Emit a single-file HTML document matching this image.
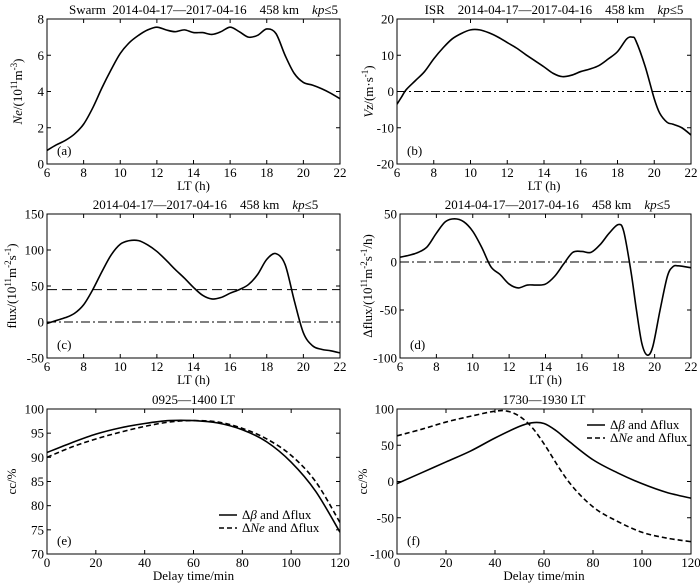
<!DOCTYPE html>
<html><head><meta charset="utf-8">
<style>
html,body{margin:0;padding:0;background:#fff;}
svg{display:block;font-family:"Liberation Serif","Noto Serif CJK SC",serif;}
text{white-space:pre;}
</style></head>
<body>
<svg id="fig" width="700" height="584" viewBox="0 0 700 584" xmlns="http://www.w3.org/2000/svg" xml:space="preserve"></svg>
<script>
// ---- data ----
const aX=[6,6.5,7,7.5,8,8.5,9,9.5,10,10.5,11,11.5,12,12.5,13,13.5,14,14.5,15,15.5,16,16.5,17,17.5,18,18.5,19,19.5,20,20.5,21,21.5,22];
const aNe=[0.75,1.05,1.3,1.65,2.2,3.1,4.2,5.2,6.1,6.7,7.1,7.4,7.55,7.4,7.3,7.4,7.25,7.25,7.15,7.3,7.55,7.3,7.0,7.1,7.45,7.2,6.0,5.0,4.5,4.35,4.15,3.9,3.6];
const bX=[6,6.25,6.5,7,7.5,8,8.5,9,9.5,10,10.5,11,11.5,12,12.5,13,13.5,14,14.5,15,15.5,16,16.5,17,17.5,18,18.5,18.8,19,19.5,20,20.3,20.7,21,21.5,22];
const bVz=[-3.5,-1.5,0.5,3,5.5,9,12,14.5,16,17,17,16.2,15,13.5,12,10.2,8.5,6.8,5,4.1,4.5,5.5,6.2,7.2,9,11,14.5,15,14,7,-2,-6,-8.5,-9,-10,-12];
const cX=[6,6.5,7,7.5,8,8.5,9,9.5,10,10.5,11,11.5,12,12.5,13,13.5,14,14.5,15,15.5,16,16.5,17,17.5,18,18.5,19,19.5,20,20.5,21,21.5,22];
const cFlux=[-2,2,6,12,24,45,70,93,108,113,113,107,98,86,73,61,48,37,32,34,40,45,52,66,87,95,80,30,-15,-33,-38,-40,-43];
const cThreshold=45;
const dX=[6,6.5,7,7.5,8,8.5,9,9.5,10,10.5,11,11.5,12,12.5,13,13.5,14,14.5,15,15.5,16,16.5,17,17.5,18,18.3,18.7,19,19.3,19.6,19.9,20.3,20.7,21,21.3,22];
const dDflux=[5,7,10,16,30,42,45,42,32,15,-5,-13,-23,-27,-24,-24,-23,-15,-2,10,11,10,18,30,39,32,-10,-50,-85,-97,-88,-50,-15,-5,-4,-6];
const eX=[0,10,20,30,40,50,60,70,80,90,100,110,120];
const eBeta=[91,93,94.8,96.1,97,97.6,97.6,97.1,95.7,93.2,89,83,74.5];
const eNe=[90,92.1,93.8,95.2,96.4,97.3,97.6,97.3,96,93.8,90.4,85,76.5];
const fXs=[0,10,20,30,40,50,55,60,65,70,80,90,100,110,120];
const fBeta=[-3,12,27,42,60,76,81,80,70,56,30,12,-3,-15,-23];
const fXd=[0,10,20,30,40,45,50,55,60,70,80,90,100,110,120];
const fNe=[63,72,82,90,97,97,90,75,52,0,-35,-55,-70,-78,-83];
const ltTicks=[6,8,10,12,14,16,18,20,22];
const delayTicks=[0,20,40,60,80,100,120];

const NS="http://www.w3.org/2000/svg";
const svg=document.getElementById('fig');
function mk(tag,attrs,parent,txt){const e=document.createElementNS(NS,tag);for(const k in attrs)e.setAttribute(k,attrs[k]);if(txt!==undefined)e.innerHTML=txt;(parent||svg).appendChild(e);return e;}
function smooth(pts){let d=`M${pts[0][0]},${pts[0][1]}`;for(let i=0;i<pts.length-1;i++){const p0=pts[Math.max(0,i-1)],p1=pts[i],p2=pts[i+1],p3=pts[Math.min(pts.length-1,i+2)];
const c1x=p1[0]+(p2[0]-p0[0])/6,c1y=p1[1]+(p2[1]-p0[1])/6,c2x=p2[0]-(p3[0]-p1[0])/6,c2y=p2[1]-(p3[1]-p1[1])/6;d+=` C${c1x.toFixed(2)},${c1y.toFixed(2)} ${c2x.toFixed(2)},${c2y.toFixed(2)} ${p2[0].toFixed(2)},${p2[1].toFixed(2)}`;}return d;}

function panel(o){
  const g=mk('g',{});
  
  
  const sx=v=>o.L+(v-o.x0)/(o.x1-o.x0)*(o.R-o.L);
  const sy=v=>o.B-(v-o.y0)/(o.y1-o.y0)*(o.B-o.T);
  const clipId='clip-'+o.name;
  const cp=mk('clipPath',{id:clipId},g);mk('rect',{x:o.L,y:o.T,width:o.R-o.L,height:o.B-o.T},cp);
  (o.hlines||[]).forEach(h=>{const l=mk('line',{x1:o.L,x2:o.R,y1:sy(h.v),y2:sy(h.v),stroke:'#000','stroke-width':1,'stroke-dasharray':h.dash},g);});
  o.series.forEach(s=>{const pts=s.x.map((x,i)=>[sx(x),sy(s.y[i])]);const p=mk('path',{d:smooth(pts),fill:'none',stroke:'#000','stroke-width':1.6,'stroke-dasharray':s.dash||'','clip-path':`url(#${clipId})`},g);});
  const fr=mk('rect',{x:o.L,y:o.T,width:o.R-o.L,height:o.B-o.T,fill:'none',stroke:'#000','stroke-width':1},g);
  
  o.xt.forEach(t=>{const x=sx(t);mk('line',{x1:x,x2:x,y1:o.B,y2:o.B-4,stroke:'#000'},g);mk('line',{x1:x,x2:x,y1:o.T,y2:o.T+4,stroke:'#000'},g);
    const tx=mk('text',{x:x,y:o.B+13,'text-anchor':'middle','font-size':13},g,t);});
  o.yt.forEach(t=>{const y=sy(t);mk('line',{x1:o.L,x2:o.L+4,y1:y,y2:y,stroke:'#000'},g);mk('line',{x1:o.R,x2:o.R-4,y1:y,y2:y,stroke:'#000'},g);
    const tx=mk('text',{x:o.L-3,y:y+4.5,'text-anchor':'end','font-size':13},g,t);});
  const xl=mk('text',{x:(o.L+o.R)/2,y:o.B+26,'text-anchor':'middle','font-size':13},g,o.xlabel);
  const yl=mk('text',{x:0,y:0,'text-anchor':'middle','font-size':13,transform:`translate(${o.ylx},${(o.T+o.B)/2}) rotate(-90)`},g,o.ylabel);
  const ti=mk('text',{x:(o.L+o.R)/2+o.tdx,y:o.T-5,'text-anchor':'middle','font-size':13,style:'white-space:pre'},g,o.title);
  const pl=mk('text',{x:o.L+10,y:o.B-9,'font-size':13},g,o.tag);
  (o.legend||[]).forEach((e,i)=>{const y=o.legY+i*13;const ln=mk('line',{x1:o.legX,x2:o.legX+18,y1:y-4,y2:y-4,stroke:'#000','stroke-width':1.6,'stroke-dasharray':e.dash||''},g);
    const tx=mk('text',{x:o.legX+23,y:y,'font-size':13},g,e.label);});
}
const kp='<tspan font-style="italic">kp</tspan>≤5';
const dates='2014-04-17—2017-04-16    458 km    ';
panel({name:'panel-a',L:47,R:340,T:19,B:164,x0:6,x1:22,y0:0,y1:8,xt:ltTicks,yt:[0,2,4,6,8],xlabel:'LT (h)',ylx:22,
  ylabel:'<tspan font-style="italic">Ne</tspan>/(10<tspan font-size="9" dy="-5">11</tspan><tspan dy="5">m</tspan><tspan font-size="9" dy="-5">-3</tspan><tspan dy="5">)</tspan>',
  title:'Swarm  '+dates+kp,tdx:10,tag:'(a)',series:[{name:'ne-curve',x:aX,y:aNe}]});
panel({name:'panel-b',L:397,R:691,T:19,B:164,x0:6,x1:22,y0:-20,y1:20,xt:ltTicks,yt:[-20,-10,0,10,20],xlabel:'LT (h)',ylx:373,
  ylabel:'<tspan font-style="italic">Vz</tspan>/(m·s<tspan font-size="9" dy="-5">-1</tspan><tspan dy="5">)</tspan>',
  title:'ISR    '+dates+kp,tdx:10,tag:'(b)',hlines:[{v:0,dash:'9 3 2 3',name:'zero-line'}],series:[{name:'vz-curve',x:bX,y:bVz}]});
panel({name:'panel-c',L:47,R:340,T:214,B:358,x0:6,x1:22,y0:-50,y1:150,xt:ltTicks,yt:[-50,0,50,100,150],xlabel:'LT (h)',ylx:16,
  ylabel:'flux/(10<tspan font-size="9" dy="-5">11</tspan><tspan dy="5">m</tspan><tspan font-size="9" dy="-5">-2</tspan><tspan dy="5">s</tspan><tspan font-size="9" dy="-5">-1</tspan><tspan dy="5">)</tspan>',
  title:dates+kp,tdx:12,tag:'(c)',hlines:[{v:0,dash:'9 3 2 3',name:'zero-line'},{v:cThreshold,dash:'10 5',name:'threshold-line'}],series:[{name:'flux-curve',x:cX,y:cFlux}]});
panel({name:'panel-d',L:400,R:691,T:214,B:358,x0:6,x1:22,y0:-100,y1:50,xt:ltTicks,yt:[-100,-50,0,50],xlabel:'LT (h)',ylx:372,
  ylabel:'Δflux/(10<tspan font-size="9" dy="-5">11</tspan><tspan dy="5">m</tspan><tspan font-size="9" dy="-5">-2</tspan><tspan dy="5">s</tspan><tspan font-size="9" dy="-5">-1</tspan><tspan dy="5">/h)</tspan>',
  title:dates+kp,tdx:12,tag:'(d)',hlines:[{v:0,dash:'9 3 2 3',name:'zero-line'}],series:[{name:'dflux-curve',x:dX,y:dDflux}]});
panel({name:'panel-e',L:47,R:340,T:409,B:554,x0:0,x1:120,y0:70,y1:100,xt:delayTicks,yt:[70,75,80,85,90,95,100],xlabel:'Delay time/min',ylx:16,
  ylabel:'cc/%',title:'0925—1400 LT',tdx:0,tag:'(e)',legX:219,legY:519,
  legend:[{label:'Δ<tspan font-style="italic">β</tspan> and Δflux'},{label:'Δ<tspan font-style="italic">Ne</tspan> and Δflux',dash:'5 3'}],
  series:[{name:'beta-flux-cc',x:eX,y:eBeta},{name:'ne-flux-cc',x:eX,y:eNe,dash:'5 3'}]});
panel({name:'panel-f',L:397,R:691,T:409,B:554,x0:0,x1:120,y0:-100,y1:100,xt:delayTicks,yt:[-100,-50,0,50,100],xlabel:'Delay time/min',ylx:367,
  ylabel:'cc/%',title:'1730—1930 LT',tdx:0,tag:'(f)',legX:587,legY:429,
  legend:[{label:'Δ<tspan font-style="italic">β</tspan> and Δflux'},{label:'Δ<tspan font-style="italic">Ne</tspan> and Δflux',dash:'5 3'}],
  series:[{name:'beta-flux-cc',x:fXs,y:fBeta},{name:'ne-flux-cc',x:fXd,y:fNe,dash:'5 3'}]});
</script>
</body></html>
